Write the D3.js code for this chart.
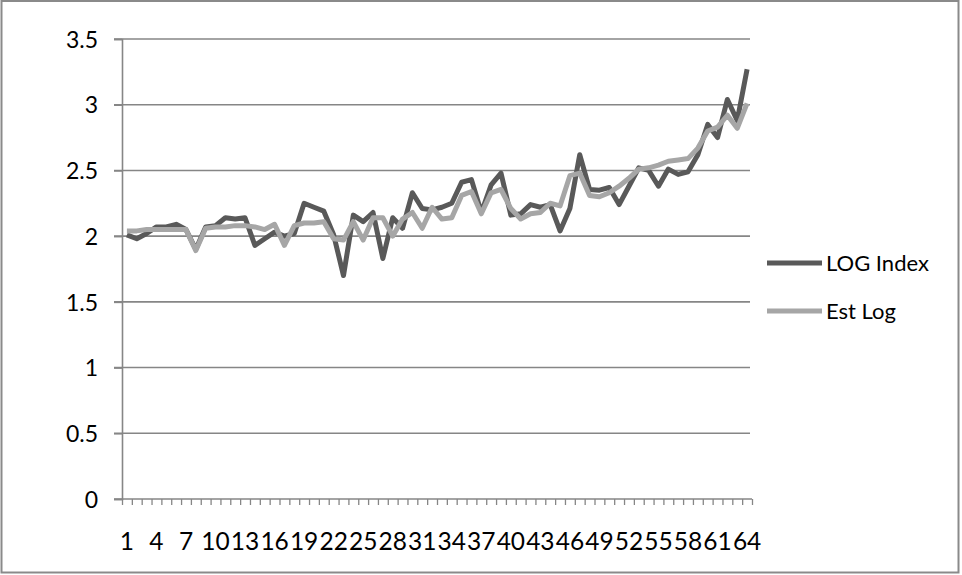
<!DOCTYPE html>
<html>
<head>
<meta charset="utf-8">
<script src="https://cdn.jsdelivr.net/npm/d3@7"></script>
<style>
  html, body { margin: 0; padding: 0; background: #fff; }
  svg { display: block; }
  text { font-family: Lato, "Open Sans", sans-serif; fill: #000; }
</style>
</head>
<body>
<svg id="chart" width="962" height="575"></svg>
<script>
const categories = d3.range(1, 65);
const seriesNames = ["LOG Index", "Est Log"];
const logIndex = [
  2.01, 1.98, 2.02, 2.07, 2.07, 2.09, 2.05, 1.90, 2.07, 2.08,
  2.14, 2.13, 2.14, 1.93, 1.98, 2.03, 2.00, 2.02, 2.25, 2.22,
  2.19, 2.01, 1.70, 2.16, 2.11, 2.18, 1.83, 2.14, 2.06, 2.33,
  2.21, 2.20, 2.22, 2.25, 2.41, 2.43, 2.18, 2.39, 2.48, 2.16,
  2.17, 2.24, 2.22, 2.24, 2.04, 2.21, 2.62, 2.355, 2.35, 2.37,
  2.24, 2.38, 2.52, 2.50, 2.38, 2.51, 2.47, 2.49, 2.62, 2.85,
  2.75, 3.04, 2.88, 3.27
];
const estLog = [
  2.04, 2.04, 2.05, 2.05, 2.05, 2.05, 2.05, 1.89, 2.06, 2.07,
  2.07, 2.08, 2.08, 2.07, 2.05, 2.09, 1.93, 2.08, 2.10, 2.10,
  2.11, 1.98, 1.97, 2.11, 1.97, 2.14, 2.14, 2.00, 2.13, 2.18,
  2.06, 2.22, 2.13, 2.14, 2.31, 2.34, 2.17, 2.33, 2.355, 2.21,
  2.13, 2.17, 2.18, 2.25, 2.23, 2.46, 2.48, 2.31, 2.30, 2.33,
  2.38, 2.44, 2.51, 2.52, 2.54, 2.57, 2.58, 2.59, 2.67, 2.80,
  2.83, 2.92, 2.82, 3.01
];
const yTicks = [0, 0.5, 1, 1.5, 2, 2.5, 3, 3.5];
const xTickLabels = categories.filter((d, i) => i % 3 === 0);
const seriesColors = ["#595959", "#a6a6a6"];

const svg = d3.select("#chart");
const plotLeft = 122, plotRight = 752, plotTop = 39, plotBottom = 499;

// outer frame
svg.append("rect")
  .attr("x", 1.5).attr("y", 1).attr("width", 957).attr("height", 571.5)
  .attr("fill", "none").attr("stroke", "#8a8a8a").attr("stroke-width", 2);

const x = d3.scaleBand().domain(categories).range([plotLeft, plotRight]).paddingInner(0).paddingOuter(0);
const xEdge = d3.scaleLinear().domain([0, categories.length]).range([plotLeft, plotRight]);
const y = d3.scaleLinear().domain([0, 3.5]).range([plotBottom, plotTop]);

// gridlines
svg.append("g").selectAll("line")
  .data(yTicks.filter(d => d > 0))
  .join("line")
  .attr("x1", plotLeft - 8).attr("x2", 750)
  .attr("y1", d => y(d)).attr("y2", d => y(d))
  .attr("stroke", "#868686").attr("stroke-width", 1.6);

// y axis
const yAxis = svg.append("g")
  .attr("transform", `translate(${plotLeft},0)`)
  .call(d3.axisLeft(y).tickValues(yTicks).tickSize(8).tickPadding(16).tickFormat(d3.format("")));
yAxis.select(".domain").attr("stroke", "#868686").attr("stroke-width", 1.6);
yAxis.selectAll(".tick line").attr("stroke", "#868686").attr("stroke-width", 1.6);
yAxis.selectAll(".tick text").style("font-size", "23px").attr("dy", "0.36em");

// x axis tick marks between categories
const xTicksG = svg.append("g")
  .attr("transform", `translate(0,${plotBottom})`)
  .call(d3.axisBottom(xEdge).tickValues(d3.range(0, categories.length + 1)).tickSize(6).tickFormat(""));
xTicksG.select(".domain").remove();
xTicksG.selectAll(".tick line").attr("stroke", "#868686").attr("stroke-width", 1.3);
svg.append("line")
  .attr("x1", plotLeft - 8).attr("x2", plotRight).attr("y1", plotBottom).attr("y2", plotBottom)
  .attr("stroke", "#868686").attr("stroke-width", 1.6);

// x labels
const xLab = svg.append("g")
  .attr("transform", `translate(0,${plotBottom})`)
  .call(d3.axisBottom(x).tickValues(xTickLabels).tickSize(0).tickPadding(34));
xLab.select(".domain").remove();
xLab.selectAll(".tick text").style("font-size", "24.5px");

// lines
const line = d3.line().x((d, i) => x(categories[i]) + x.bandwidth() / 2).y(d => y(d));
svg.append("path").datum(logIndex)
  .attr("d", line).attr("fill", "none")
  .attr("stroke", seriesColors[0]).attr("stroke-width", 5)
  .attr("stroke-linejoin", "round");
svg.append("path").datum(estLog)
  .attr("d", line).attr("fill", "none")
  .attr("stroke", seriesColors[1]).attr("stroke-width", 5)
  .attr("stroke-linejoin", "round");

// legend
const legend = svg.append("g");
const legY = [263, 311];
seriesNames.forEach((name, i) => {
  legend.append("line")
    .attr("x1", 767).attr("x2", 822).attr("y1", legY[i]).attr("y2", legY[i])
    .attr("stroke", seriesColors[i]).attr("stroke-width", 5);
  legend.append("text")
    .attr("x", 826).attr("y", legY[i]).attr("dy", "0.35em")
    .style("font-size", "22px")
    .text(name);
});
</script>
</body>
</html>
